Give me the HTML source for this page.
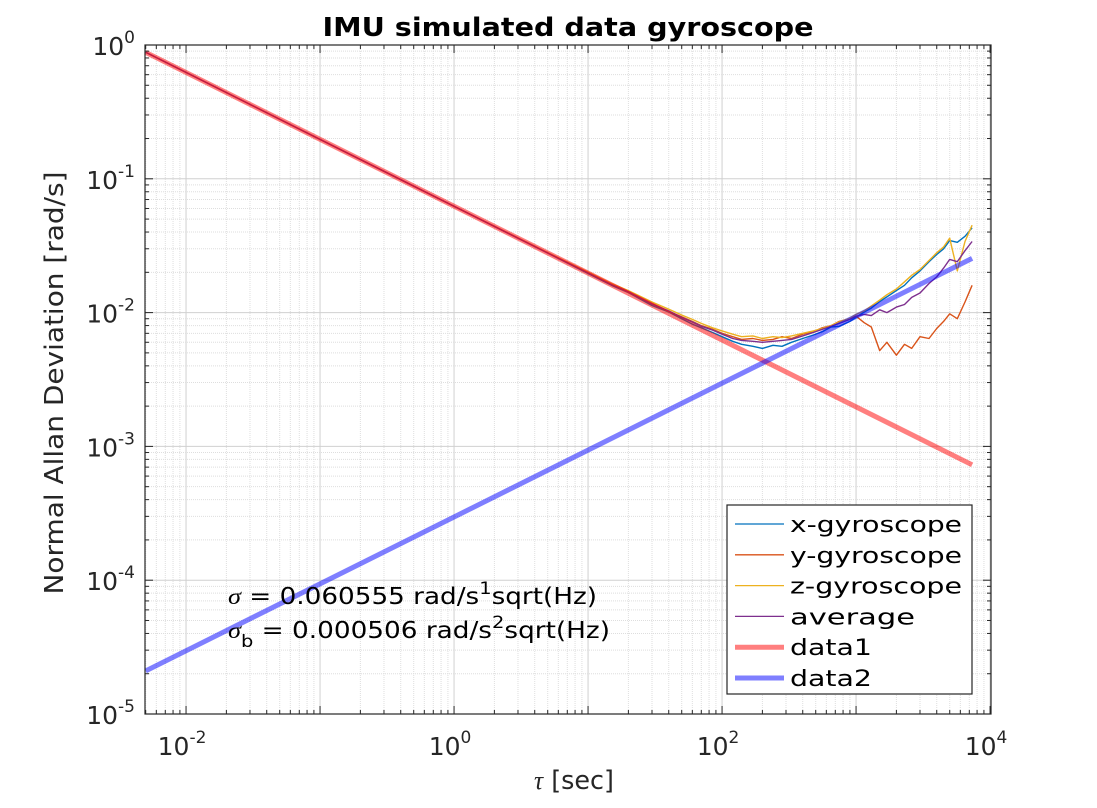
<!DOCTYPE html>
<html><head><meta charset="utf-8">
<style>
body{margin:0;background:#fff;}
svg{display:block;font-family:"DejaVu Sans","Liberation Sans",sans-serif;}
</style></head>
<body>
<svg id="chart" width="1097" height="808" viewBox="0 0 1097 808" xmlns="http://www.w3.org/2000/svg">
<rect x="0" y="0" width="1097" height="808" fill="#fff"/>
<text x="568" y="36" text-anchor="middle" font-size="26" font-weight="bold" fill="#000" textLength="491" lengthAdjust="spacingAndGlyphs">IMU simulated data gyroscope</text>
<g id="grid"></g>
<g id="series" clip-path="url(#clip)"></g>
<defs><clipPath id="clip"><rect x="145" y="45" width="846" height="669"/></clipPath></defs>
<rect x="145" y="45" width="846" height="669" fill="none" stroke="#262626" stroke-width="1.2"/>
<g id="ticks"></g>
<text transform="translate(63,383) rotate(-90)" text-anchor="middle" font-size="26" fill="#262626" textLength="423" lengthAdjust="spacingAndGlyphs">Normal Allan Deviation [rad/s]</text>
<text x="574" y="789" text-anchor="middle" font-size="26" fill="#262626" textLength="80" lengthAdjust="spacingAndGlyphs"><tspan font-family="Liberation Serif" font-style="italic">τ</tspan> [sec]</text>
<text x="228" y="604" font-size="23" fill="#000" textLength="369" lengthAdjust="spacingAndGlyphs"><tspan font-family="Liberation Serif" font-style="italic">σ</tspan> = 0.060555 rad/s<tspan dy="-10" font-size="17">1</tspan><tspan dy="10">sqrt(Hz)</tspan></text>
<text x="228" y="638" font-size="23" fill="#000" textLength="382" lengthAdjust="spacingAndGlyphs"><tspan font-family="Liberation Serif" font-style="italic">σ</tspan><tspan dy="9" font-size="17">b</tspan><tspan dy="-9"> = 0.000506 rad/s</tspan><tspan dy="-10" font-size="17">2</tspan><tspan dy="10">sqrt(Hz)</tspan></text>
<g id="legend"></g>
</svg>
<script>
const tau = [0.005,0.01,0.1,1,5,10,15,20,30,40,50,60,70,85,100,120,140,170,200,240,280,330,400,480,560,650,750,900,1000,1150,1300,1500,1700,2000,2300,2600,3000,3500,4000,4500,5000,5700,6500,7340];
const xGyro = [0.882,0.624,0.197,0.0624,0.0279,0.0196,0.0160,0.0141,0.0113,0.0101,0.0090,0.0082,0.0077,0.0071,0.0066,0.0061,0.0058,0.0056,0.0054,0.0057,0.0056,0.0060,0.0064,0.0068,0.0072,0.0078,0.0079,0.0086,0.0092,0.0101,0.0108,0.0121,0.0131,0.0146,0.0160,0.0182,0.0205,0.0240,0.0272,0.0300,0.0345,0.0335,0.0372,0.0430];
const yGyro = [0.882,0.624,0.197,0.0624,0.0280,0.0199,0.0163,0.0142,0.0117,0.0102,0.0093,0.0086,0.0080,0.0075,0.0070,0.0066,0.0063,0.0064,0.0062,0.0063,0.0066,0.0064,0.0069,0.0072,0.0077,0.0080,0.0086,0.0090,0.0094,0.0084,0.0078,0.0052,0.0060,0.0048,0.0058,0.0054,0.0066,0.0064,0.0076,0.0086,0.0098,0.0090,0.0120,0.0160];
const zGyro = [0.882,0.624,0.197,0.0624,0.0281,0.0201,0.0165,0.0146,0.0120,0.0106,0.0096,0.0089,0.0083,0.0077,0.0073,0.0069,0.0066,0.0067,0.0064,0.0066,0.0065,0.0067,0.0070,0.0073,0.0076,0.0080,0.0085,0.0091,0.0097,0.0103,0.0112,0.0124,0.0136,0.0150,0.0170,0.0190,0.0210,0.0245,0.0280,0.0310,0.0360,0.0205,0.0340,0.0450];
const avgGyro = [0.882,0.624,0.197,0.0624,0.0279,0.0198,0.0162,0.0143,0.0116,0.0103,0.0092,0.0085,0.0079,0.0074,0.0069,0.0064,0.0062,0.0061,0.0060,0.0061,0.0062,0.0063,0.0067,0.0071,0.0075,0.0079,0.0083,0.0089,0.0094,0.0097,0.0095,0.0105,0.0100,0.0110,0.0115,0.0130,0.0140,0.0165,0.0185,0.0215,0.0250,0.0240,0.0290,0.0340];
const fitTau = [0.005,7340];
const data1 = [0.882,0.000728];
const data2 = [0.000021,0.0254];
const xTickVals = [0.01,1,100,10000];
const xTickExp = ["-2","0","2","4"];
const yTickVals = [1,0.1,0.01,0.001,0.0001,0.00001];
const yTickExp = ["0","-1","-2","-3","-4","-5"];
const legendLabels = ["x-gyroscope","y-gyroscope","z-gyroscope","average","data1","data2"];

const L=145,R=991,T=45,B=714;
const lxMin=Math.log10(0.00494), lxMax=4.007, lyMin=-5, lyMax=0;
function sx(v){return L+(Math.log10(v)-lxMin)/(lxMax-lxMin)*(R-L);}
function sy(v){return B-(Math.log10(v)-lyMin)/(lyMax-lyMin)*(B-T);}
const NS="http://www.w3.org/2000/svg";
function mk(tag,attrs,parent){const e=document.createElementNS(NS,tag);for(const k in attrs)e.setAttribute(k,attrs[k]);parent.appendChild(e);return e;}
const grid=document.getElementById('grid'), ticks=document.getElementById('ticks');
for(let d=-3;d<=4;d++){for(let m=1;m<=9;m++){const v=m*Math.pow(10,d);const x=sx(v);if(x<L||x>R)continue;
 const g=mk('line',{x1:x,x2:x,y1:T,y2:B,stroke:m===1?'#d0d0d0':'#dedede','stroke-width':1,'stroke-dasharray':m===1?'':'1,1'},grid);
 
 const len=m===1?8:4;
 mk('line',{x1:x,x2:x,y1:B,y2:B-len,stroke:'#262626'},ticks);mk('line',{x1:x,x2:x,y1:T,y2:T+len,stroke:'#262626'},ticks);}}
for(let d=-5;d<=0;d++){for(let m=1;m<=9;m++){const v=m*Math.pow(10,d);const y=sy(v);if(y<T-0.5||y>B+0.5)continue;
 const g=mk('line',{x1:L,x2:R,y1:y,y2:y,stroke:m===1?'#d0d0d0':'#dedede','stroke-width':1,'stroke-dasharray':m===1?'':'1,1'},grid);
 
 const len=m===1?8:4;
 mk('line',{x1:L,x2:L+len,y1:y,y2:y,stroke:'#262626'},ticks);mk('line',{x1:R,x2:R-len,y1:y,y2:y,stroke:'#262626'},ticks);}}
xTickVals.forEach((v,i)=>{const t=mk('text',{x:sx(v)-4,y:755,'text-anchor':'middle','font-size':25,fill:'#262626'},ticks);
 
 t.innerHTML='10<tspan dy="-12" font-size="17">'+xTickExp[i]+'</tspan>';});
yTickVals.forEach((v,i)=>{const t=mk('text',{x:135,y:sy(v)+10,'text-anchor':'end','font-size':25,fill:'#262626'},ticks);
 
 t.innerHTML='10<tspan dy="-12" font-size="17">'+yTickExp[i]+'</tspan>';});
const ser=document.getElementById('series');
function line(xs,ys,color,w,op,name){const p=xs.map((t,i)=>sx(t).toFixed(1)+','+sy(ys[i]).toFixed(1)).join(' ');
 const e=mk('polyline',{points:p,fill:'none',stroke:color,'stroke-width':w,'stroke-opacity':op,'stroke-linejoin':'round'},ser);
 }
line(tau,xGyro,'#0072BD',1.4,1,'x-gyroscope-line');
line(tau,yGyro,'#D95319',1.4,1,'y-gyroscope-line');
line(tau,zGyro,'#EDB120',1.4,1,'z-gyroscope-line');
line(tau,avgGyro,'#7E2F8E',1.4,1,'average-line');
line(fitTau,data1,'#ff0000',5,0.5,'data1-line');
line(fitTau,data2,'#0000ff',5,0.5,'data2-line');
const lg=document.getElementById('legend');
mk('rect',{x:727,y:505,width:245,height:189,fill:'#fff',stroke:'#262626','stroke-width':1.2},lg);
const lc=['#0072BD','#D95319','#EDB120','#7E2F8E','#ff0000','#0000ff'],lw=[1.3,1.3,1.3,1.3,5,5],lo=[1,1,1,1,0.5,0.5];
const lwid=[172,172,172,125,82,82];
legendLabels.forEach((s,i)=>{const y=524+i*30.8;
 const l=mk('line',{x1:735,x2:784,y1:y,y2:y,stroke:lc[i],'stroke-width':lw[i],'stroke-opacity':lo[i]},lg);
 
 const t=mk('text',{x:790,y:y+8,'font-size':22,fill:'#000',textLength:lwid[i],lengthAdjust:'spacingAndGlyphs'},lg);t.textContent=s;
 });
</script>
</body></html>
